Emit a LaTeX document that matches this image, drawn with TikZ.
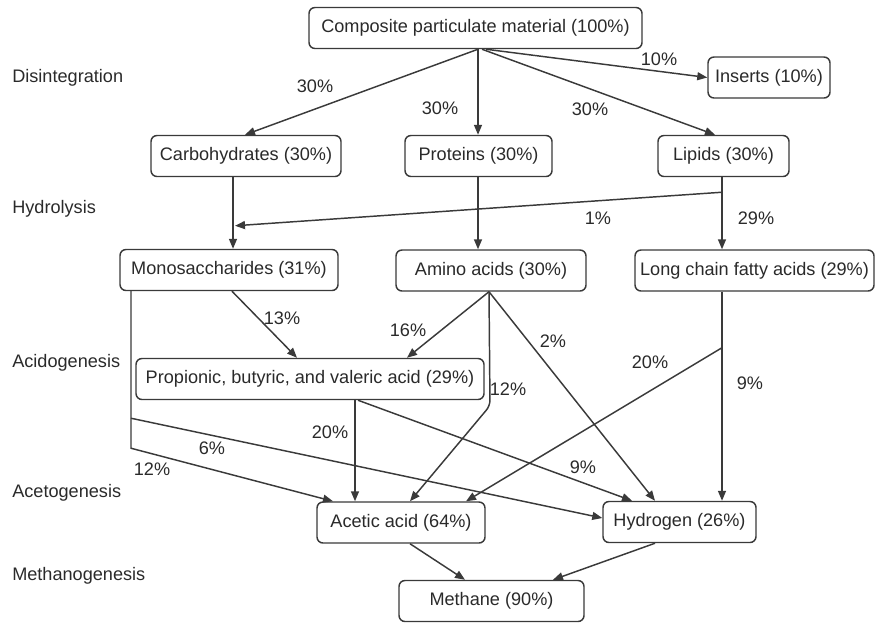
\documentclass[tikz,border=0pt]{standalone}
\usepackage{fontspec}
\setmainfont{Liberation Sans}
\usetikzlibrary{arrows.meta,calc}
\definecolor{lncol}{HTML}{3A3A3A}
\definecolor{txcol}{HTML}{2A2A2A}
\begin{document}
\begin{tikzpicture}[x=0.75pt,y=-0.75pt,
  txt/.style={inner sep=0pt,text=txcol,font=\fontsize{13.6}{16}\selectfont},
  box/.style={txt,draw=lncol,line width=1.1pt,rounded corners=4.5pt,fill=white,minimum height=30.75pt},
  bw/.style={minimum width=#1*0.75pt},
  stage/.style={txt,anchor=west},
  pct/.style={txt},
  conn/.style={draw=lncol,line width=1.1pt},
  arr/.style={conn,-{Triangle[length=7.5pt,width=6pt]}}]
\useasboundingbox (0,0) rectangle (875,622);

% stage labels
\node[stage] (s1) at (12,78) {Disintegration};
\node[stage] (s2) at (12,209) {Hydrolysis};
\node[stage] (s3) at (12,363) {Acidogenesis};
\node[stage] (s4) at (12,493) {Acetogenesis};
\node[stage] (s5) at (12,576) {Methanogenesis};

% boxes
\node[box,bw=333] (comp) at (475.5,28) {Composite particulate material (100\%)};
\node[box,bw=122] (ins) at (769,77.5) {Inserts (10\%)};
\node[box,bw=190] (carb) at (246,156) {Carbohydrates (30\%)};
\node[box,bw=147] (prot) at (478.5,156) {Proteins (30\%)};
\node[box,bw=131] (lip) at (723.5,156) {Lipids (30\%)};
\node[box,bw=218] (mono) at (229,270) {Monosaccharides (31\%)};
\node[box,bw=190] (amino) at (491,270.5) {Amino acids (30\%)};
\node[box,bw=239] (lcfa) at (754.5,270.5) {Long chain fatty acids (29\%)};
\node[box,bw=348] (prop) at (310,379) {Propionic, butyric, and valeric acid (29\%)};
\node[box,bw=168] (acet) at (401,522.5) {Acetic acid (64\%)};
\node[box,bw=153] (hyd) at (679.5,522) {Hydrogen (26\%)};
\node[box,bw=185] (meth) at (491.5,601) {Methane (90\%)};

% helper coordinates
\coordinate (j1) at ($(lip.south)+(-1.5,15)$);
\coordinate (j2) at ($(lcfa.south)+(-32.5,56)$);
\coordinate (j3) at ($(mono.south)+(-98,127)$);
\coordinate (k1) at ($(amino.south)+(-1,114)$);
\coordinate (k2) at ($(mono.south)+(-98,157)$);

% disintegration
\draw[arr] ($(comp.south)+(2.5,0)$) -- ($(carb.north)+(-1,0)$);
\draw[arr] ($(comp.south)+(2.5,0)$) -- ($(prot.north)+(-0.5,0)$);
\draw[arr] ($(comp.south)+(6.5,0)$) -- ($(lip.north)+(-8.5,0)$);
\draw[arr] ($(comp.south)+(10.5,0)$) -- (ins.west);

% hydrolysis
\draw[arr] ($(carb.south)+(-13,0)$) -- ($(mono.north)+(4,0)$);
\draw[arr] (j1) -- ($(mono.north)+(6,-23)$);
\draw[arr] ($(lip.south)+(-1.5,0)$) -- ($(lcfa.north)+(-32.5,0)$);
\draw[arr] ($(prot.south)+(-0.5,0)$) -- ($(amino.north)+(-13,0)$);

% acidogenesis
\draw[arr] ($(mono.south)+(3,0)$) -- ($(prop.north)+(-13,0)$);
\draw[arr] ($(amino.south)+(-2,0)$) -- ($(prop.north)+(97,0)$);
\draw[arr,rounded corners=4pt] ($(amino.south)+(-2,0)$) -- (k1) -- ($(acet.north)+(9,0)$);
\draw[arr] ($(amino.south)+(-2,0)$) -- ($(hyd.north)+(-24.5,0)$);
\draw[arr] ($(lcfa.south)+(-32.5,0)$) -- ($(hyd.north)+(42.5,0)$);
\draw[arr] (j2) -- ($(acet.north)+(65,0)$);

% acetogenesis
\draw[arr] ($(prop.south)+(45,0)$) -- ($(acet.north)+(-46,0)$);
\draw[arr] ($(prop.south)+(48,0)$) -- ($(hyd.north)+(-47.5,0)$);
\draw[arr] ($(mono.south)+(-98,0)$) -- (k2) -- ($(acet.north)+(-68,0)$);
\draw[arr] (j3) -- ($(hyd.west)+(0,-4)$);

% methanogenesis
\draw[arr] ($(acet.south)+(9,0)$) -- ($(meth.north)+(-26.5,0)$);
\draw[arr] ($(hyd.south)+(-24.5,0)$) -- ($(meth.north)+(61.5,0)$);

% percentages
\node[pct] (p1) at (315,86) {30\%};
\node[pct] (p2) at (440,108) {30\%};
\node[pct] (p3) at (590,109) {30\%};
\node[pct] (p4) at (659,59) {10\%};
\node[pct] (p5) at (598,218) {1\%};
\node[pct] (p6) at (756,218) {29\%};
\node[pct] (p7) at (282,318) {13\%};
\node[pct] (p8) at (408,330) {16\%};
\node[pct] (p9) at (553,341) {2\%};
\node[pct] (p10) at (650,362) {20\%};
\node[pct] (p11) at (750,383) {9\%};
\node[pct] (p12) at (508,389) {12\%};
\node[pct] (p13) at (330,432) {20\%};
\node[pct] (p14) at (212,448) {6\%};
\node[pct] (p15) at (152,469) {12\%};
\node[pct] (p16) at (583,467) {9\%};
\end{tikzpicture}
\end{document}
